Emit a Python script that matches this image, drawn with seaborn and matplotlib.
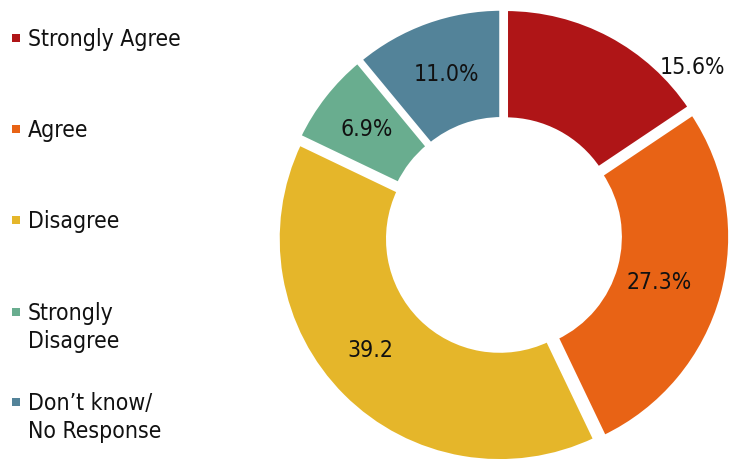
import matplotlib
matplotlib.use("Agg")
import matplotlib.pyplot as plt
import numpy as np
import seaborn as sns

# Survey response shares (percent), drawn clockwise from 12 o'clock
categories = ["Strongly Agree", "Agree", "Disagree", "Strongly\nDisagree", "Don\u2019t know/\nNo Response"]
shares = [15.6, 27.3, 39.2, 6.9, 11.0]
value_labels = ["15.6%", "27.3%", "39.2", "6.9%", "11.0%"]
colors = ["#AF1517", "#E86315", "#E5B62A", "#69AD8F", "#538399"]

sns.set_theme(style="white")
plt.rcParams["font.family"] = ["DejaVu Sans"]
FONT = dict(family=["DejaVu Sans"], fontstretch="condensed", fontsize=16.5, color="#111111")

W, H = 729, 459
fig = plt.figure(figsize=(W / 100, H / 100), dpi=100)
ax = fig.add_axes([0, 0, 1, 1])

cx, cy = 503.3, H - 235.5
radius = 222.4
ring = 111.0
wedges, _ = ax.pie(
    shares,
    colors=colors,
    startangle=90,
    counterclock=False,
    explode=[5] * len(shares),
    center=(cx, cy),
    radius=radius,
    wedgeprops=dict(width=ring, edgecolor="white", linewidth=3.4),
)

# value labels: mostly mid-ring, the first one sits outside its slice
label_r = [253, 163, 176, 173, 171]
label_shift = [-20.2, -1.3, -4.3, 0.3, -0.4]
for w, txt, r, sh in zip(wedges, value_labels, label_r, label_shift):
    ang = np.deg2rad((w.theta1 + w.theta2) / 2 + sh)
    ax.text(cx + r * np.cos(ang), cy + r * np.sin(ang), txt,
            ha="center", va="center", **FONT)

ax.set_xlim(0, W)
ax.set_ylim(0, H)
ax.set_aspect("auto")
ax.axis("off")

# legend column on the left
first_baseline = [46, 137, 228, 320, 410]
line_step = 28
for cat, col, b in zip(categories, colors, first_baseline):
    y0 = H - b
    ax.add_patch(plt.Rectangle((12, y0 + 4), 8, 8, color=col, lw=0))
    for i, line in enumerate(cat.split("\n")):
        ax.text(28, y0 - i * line_step, line, ha="left", va="baseline", **FONT)

fig.savefig("out.png", dpi=100)
